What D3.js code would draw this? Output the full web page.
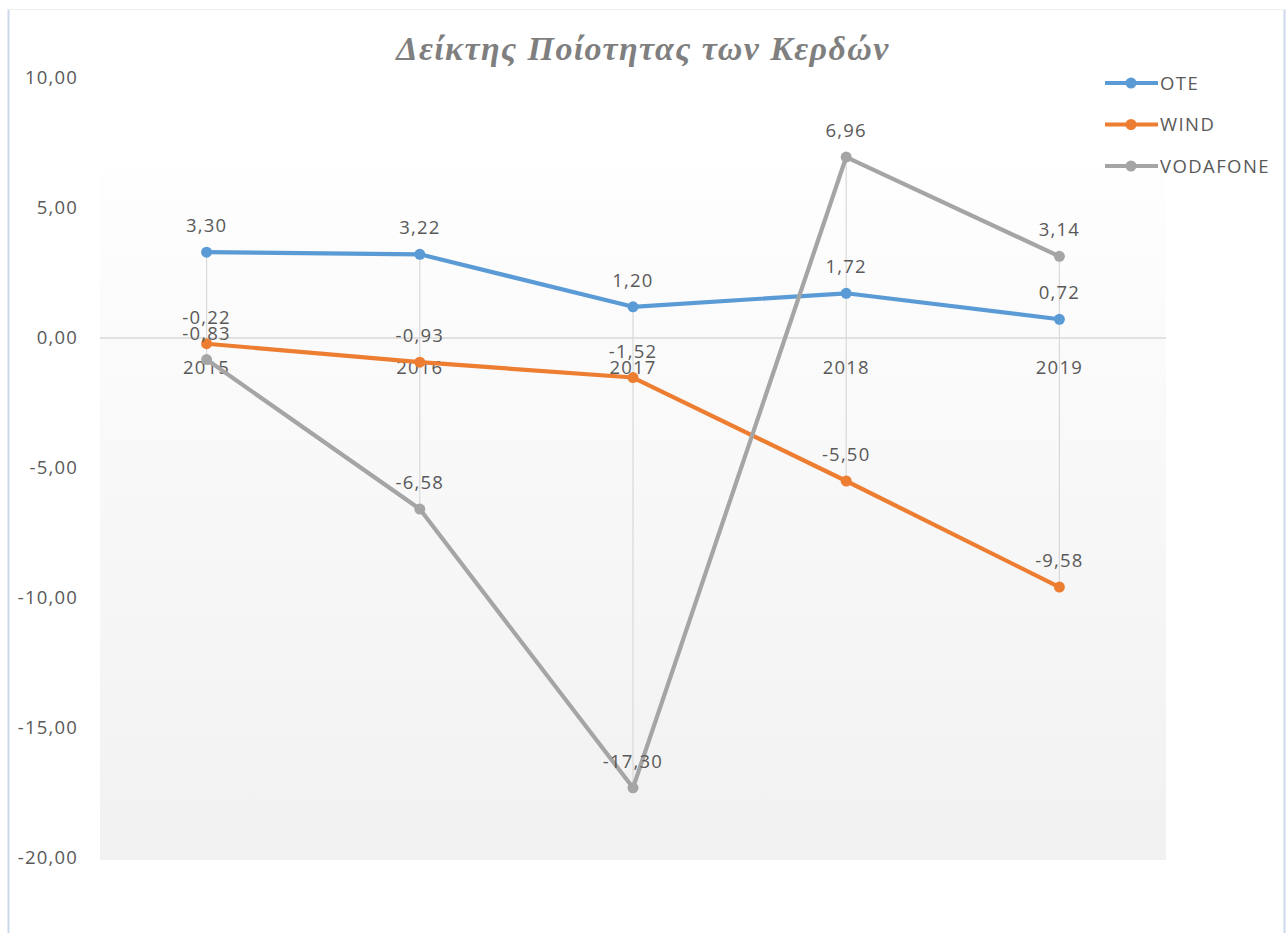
<!DOCTYPE html>
<html>
<head>
<meta charset="utf-8">
<script src="https://d3js.org/d3.v7.min.js"></script>
<style>
  html, body { margin: 0; padding: 0; background: #ffffff; }
  svg { display: block; }
</style>
</head>
<body>
<svg id="chart" width="1286" height="933"></svg>
<script>
const categories = ["2015", "2016", "2017", "2018", "2019"];
const oteValues = [3.30, 3.22, 1.20, 1.72, 0.72];
const windValues = [-0.22, -0.93, -1.52, -5.50, -9.58];
const vodafoneValues = [-0.83, -6.58, -17.30, 6.96, 3.14];
const seriesNames = ["OTE", "WIND", "VODAFONE"];
const yTicks = [10, 5, 0, -5, -10, -15, -20];
const titleText = "Δείκτης Ποίοτητας των Κερδών";

const series = [
  { name: seriesNames[0], values: oteValues, color: "#5b9bd5" },
  { name: seriesNames[1], values: windValues, color: "#ed7d31" },
  { name: seriesNames[2], values: vodafoneValues, color: "#a5a5a5" }
];

const svg = d3.select("#chart");
const font = "'Open Sans', 'Noto Sans', sans-serif";
const fs = 18.5, ls = 1.2;
const fmt = v => d3.format(".2f")(v).replace("\u2212", "-").replace(".", ",");

// chart border
svg.append("line").attr("x1", 8.5).attr("x2", 8.5).attr("y1", 9).attr("y2", 933)
  .attr("stroke", "#cbd9ec").attr("stroke-width", 2);
svg.append("line").attr("x1", 1284.5).attr("x2", 1284.5).attr("y1", 9).attr("y2", 933)
  .attr("stroke", "#cbd9ec").attr("stroke-width", 2);
svg.append("line").attr("x1", 8).attr("x2", 1285).attr("y1", 9.5).attr("y2", 9.5)
  .attr("stroke", "#f0f0f0").attr("stroke-width", 1);

// scales
const y = d3.scaleLinear().domain([-20, 10]).range([858, 78]);
const x = d3.scaleBand().domain(categories).range([100, 1166]);
const cx = c => x(c) + x.bandwidth() / 2;

// plot area background gradient
const defs = svg.append("defs");
const grad = defs.append("linearGradient").attr("id", "bg").attr("x1", 0).attr("x2", 0).attr("y1", 0).attr("y2", 1);
grad.append("stop").attr("offset", "0%").attr("stop-color", "#fefefe");
grad.append("stop").attr("offset", "100%").attr("stop-color", "#f1f1f1");
svg.append("rect").attr("x", 100).attr("y", 170).attr("width", 1066).attr("height", 690)
  .attr("fill", "url(#bg)");

// title
svg.append("text").attr("x", 643).attr("y", 60).attr("text-anchor", "middle")
  .attr("font-family", "'Liberation Serif', 'DejaVu Serif', serif")
  .attr("font-style", "italic").attr("font-weight", "bold")
  .attr("letter-spacing", 1.4)
  .attr("font-size", 34).attr("fill", "#7f7f7f").text(titleText);

// y axis labels
const yAxis = d3.axisLeft(y).tickValues(yTicks).tickSize(0).tickPadding(0).tickFormat(fmt);
const yg = svg.append("g").attr("transform", "translate(78,0)").call(yAxis);
yg.select(".domain").remove();
yg.selectAll("text").attr("font-family", font).attr("font-size", fs)
  .attr("letter-spacing", ls).attr("fill", "#595959");

// high-low lines
categories.forEach((c, i) => {
  const vals = series.map(s => s.values[i]);
  svg.append("line").attr("x1", cx(c)).attr("x2", cx(c))
    .attr("y1", y(d3.max(vals))).attr("y2", y(d3.min(vals)))
    .attr("stroke", "#d9d9d9").attr("stroke-width", 1.2);
});

// zero axis
svg.append("line").attr("x1", 100).attr("x2", 1166).attr("y1", y(0)).attr("y2", y(0))
  .attr("stroke", "#d9d9d9").attr("stroke-width", 1.5);

// category labels
const xAxis = d3.axisBottom(x).tickSize(0).tickPadding(0);
const xg = svg.append("g").attr("transform", `translate(0,${y(0) + 36})`).call(xAxis);
xg.select(".domain").remove();
xg.selectAll("text").attr("dy", 0).attr("font-family", font).attr("font-size", fs)
  .attr("letter-spacing", ls).attr("fill", "#595959");

// lines and markers
const line = d3.line().x((d, i) => cx(categories[i])).y(d => y(d));
series.forEach(s => {
  svg.append("path").attr("d", line(s.values)).attr("fill", "none")
    .attr("stroke", s.color).attr("stroke-width", 4.2).attr("stroke-linejoin", "round");
  svg.selectAll(null).data(s.values).enter().append("circle")
    .attr("cx", (d, i) => cx(categories[i])).attr("cy", d => y(d)).attr("r", 5.5)
    .attr("fill", s.color);
});

// data labels
series.forEach(s => {
  svg.selectAll(null).data(s.values).enter().append("text")
    .attr("x", (d, i) => cx(categories[i])).attr("y", d => y(d) - 20)
    .attr("text-anchor", "middle").attr("font-family", font).attr("font-size", fs)
    .attr("letter-spacing", ls).attr("fill", "#595959").text(d => fmt(d));
});

// legend
series.forEach((s, i) => {
  const ly = 83 + i * 41.5;
  svg.append("line").attr("x1", 1105).attr("x2", 1158).attr("y1", ly).attr("y2", ly)
    .attr("stroke", s.color).attr("stroke-width", 4);
  svg.append("circle").attr("cx", 1131).attr("cy", ly).attr("r", 5.5).attr("fill", s.color);
  svg.append("text").attr("x", 1160).attr("y", ly + 6.5).attr("font-family", font)
    .attr("font-size", fs).attr("letter-spacing", 1.4).attr("fill", "#595959").text(s.name);
});
</script>
</body>
</html>
